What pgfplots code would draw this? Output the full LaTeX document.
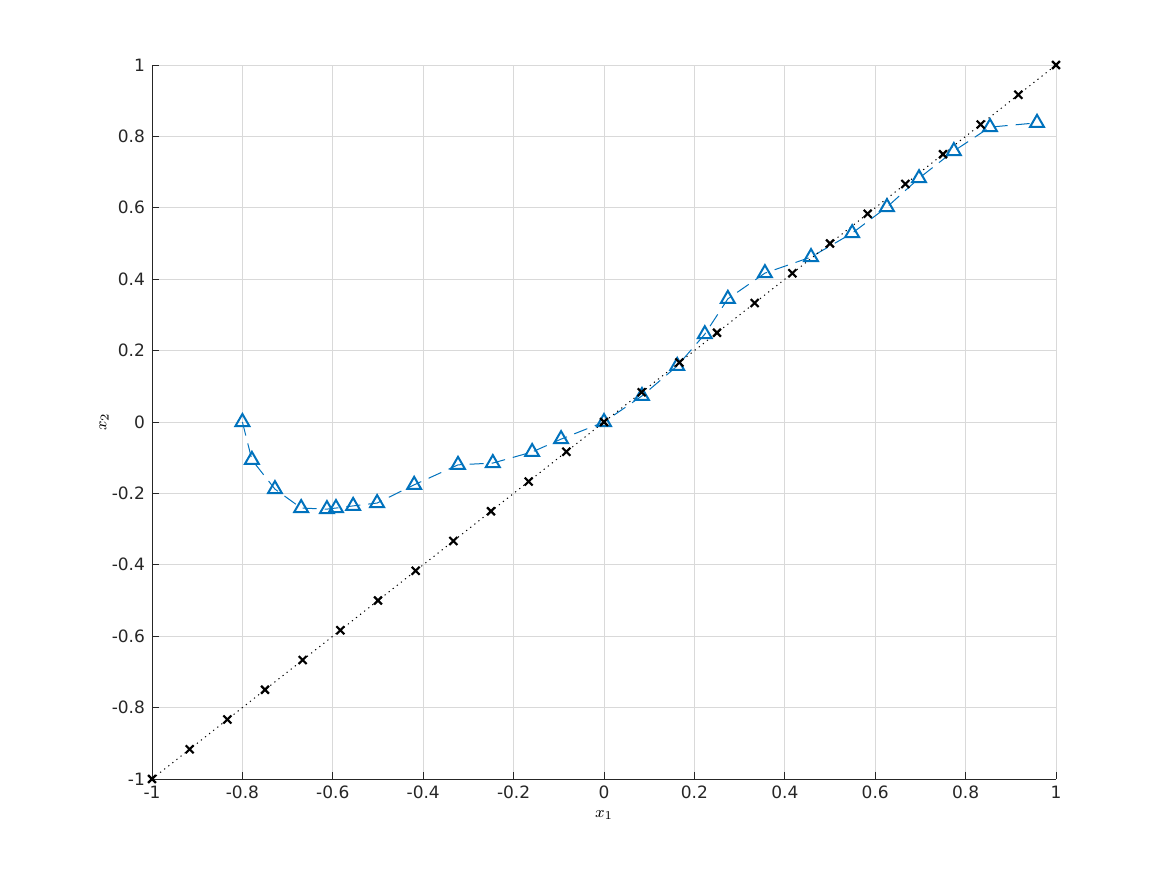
\documentclass[border=0pt]{standalone}
\usepackage{fontspec}
\setmainfont{DejaVu Sans}
\usepackage{pgfplots}
\pgfplotsset{compat=1.18}
\definecolor{mblue}{rgb}{0,0.447,0.741}
\begin{document}
\begin{tikzpicture}
\useasboundingbox (0,0) rectangle (583.5pt,437.5pt);
\begin{axis}[
  at={(76pt,48pt)}, anchor=south west,
  scale only axis, width=452pt, height=357pt,
  xmin=-1, xmax=1, ymin=-1, ymax=1,
  axis x line*=bottom, axis y line*=left,
  axis line style={black!85, line width=0.45pt, -},
  xtick={-1,-0.8,-0.6,-0.4,-0.2,0,0.2,0.4,0.6,0.8,1},
  ytick={-1,-0.8,-0.6,-0.4,-0.2,0,0.2,0.4,0.6,0.8,1},
  xticklabels={-1,-0.8,-0.6,-0.4,-0.2,0,0.2,0.4,0.6,0.8,1},
  yticklabels={-1,-0.8,-0.6,-0.4,-0.2,0,0.2,0.4,0.6,0.8,1},
  tick align=inside, major tick length=3.5pt,
  tick style={black!85, line width=0.45pt},
  grid=major, major grid style={black!15, line width=0.45pt},
  tick label style={font=\fontsize{8.5}{10}\selectfont, text=black!85},
  xlabel={$x_1$}, ylabel={$x_2$},
  label style={font=\fontsize{8}{9}\selectfont},
  xlabel style={at={(axis description cs:0.5,-0.0504)}, anchor=center},
  ylabel style={at={(axis description cs:-0.0531,0.5)}, anchor=center},
  clip=false,
]
\addplot[mblue, line width=0.5pt, dash pattern=on 7pt off 4pt,
  mark=triangle, mark size=4pt,
  mark options={solid, line width=1pt}] coordinates {
(-0.800,0.000) (-0.779,-0.106) (-0.728,-0.188) (-0.670,-0.241)
(-0.613,-0.244) (-0.593,-0.241) (-0.555,-0.235) (-0.502,-0.227)
(-0.420,-0.176) (-0.323,-0.120) (-0.246,-0.115) (-0.159,-0.084)
(-0.095,-0.048) (0.000,0.000) (0.084,0.073) (0.162,0.157)
(0.223,0.246) (0.274,0.345) (0.356,0.417) (0.458,0.462)
(0.549,0.529) (0.626,0.602) (0.697,0.683) (0.774,0.759)
(0.854,0.826) (0.958,0.838)
};
\addplot[black, line width=0.5pt, dash pattern=on 0.6pt off 2pt,
  mark=x, mark size=2.8pt,
  mark options={solid, line width=1.1pt}] coordinates {
(-1,-1) (-0.91667,-0.91667) (-0.83333,-0.83333) (-0.75,-0.75)
(-0.66667,-0.66667) (-0.58333,-0.58333) (-0.5,-0.5) (-0.41667,-0.41667)
(-0.33333,-0.33333) (-0.25,-0.25) (-0.16667,-0.16667) (-0.08333,-0.08333)
(0,0) (0.08333,0.08333) (0.16667,0.16667) (0.25,0.25)
(0.33333,0.33333) (0.41667,0.41667) (0.5,0.5) (0.58333,0.58333)
(0.66667,0.66667) (0.75,0.75) (0.83333,0.83333) (0.91667,0.91667) (1,1)
};
\end{axis}
\end{tikzpicture}
\end{document}
